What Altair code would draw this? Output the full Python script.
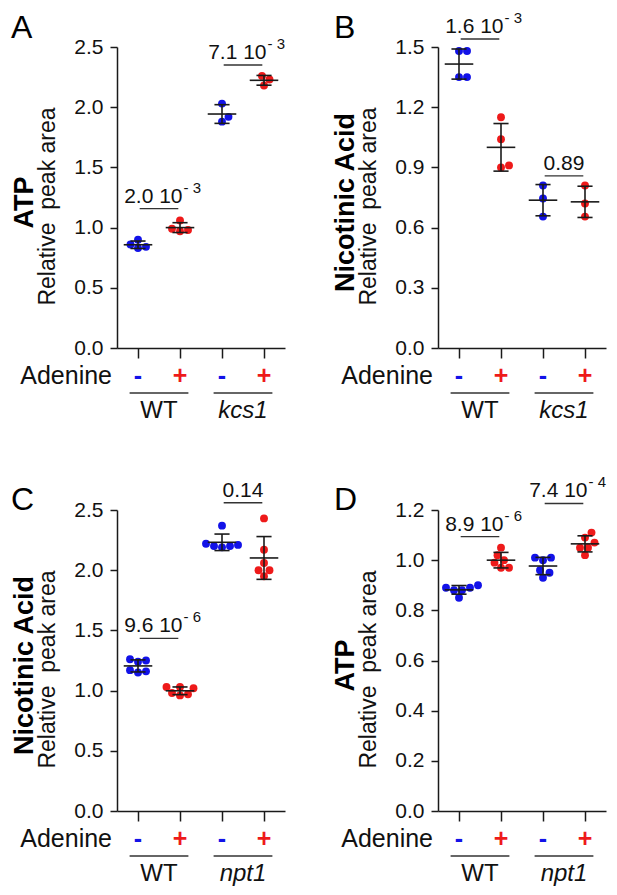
import altair as alt
import numpy as np
import pandas as pd

BLUE = "#1212e8"
RED = "#ee1a1a"
INK = "#1a1a1a"
FONT = "Liberation Sans"

# ---------------- data ----------------
letters = ["A", "B", "C", "D"]
metabolites = ["ATP", "Nicotinic Acid", "Nicotinic Acid", "ATP"]
mutants = ["kcs1", "kcs1", "npt1", "npt1"]
adenine = ["-", "+", "-", "+"]
y_max = [2.5, 1.5, 2.5, 1.2]
y_step = [0.5, 0.3, 0.5, 0.2]

atp_kcs1 = [[0.90, 0.86, 0.84, 0.83], [0.97, 0.98, 0.99, 1.06],
            [2.03, 1.92, 1.88], [2.26, 2.23, 2.18]]
na_kcs1 = [[1.48, 1.48, 1.35, 1.35], [1.15, 1.04, 0.91, 0.90],
           [0.81, 0.745, 0.655], [0.81, 0.72, 0.655]]
na_npt1 = [[1.26, 1.25, 1.24, 1.17, 1.16, 1.15], [1.03, 1.02, 1.03, 0.97, 0.96, 0.98],
           [2.37, 2.22, 2.21, 2.20, 2.19, 2.20], [2.43, 2.17, 2.06, 2.00, 2.00, 1.95]]
atp_npt1 = [[0.89, 0.90, 0.89, 0.88, 0.88, 0.85], [1.05, 1.02, 1.00, 0.99, 0.97, 0.97],
            [1.01, 1.00, 1.01, 0.96, 0.95, 0.93], [1.09, 1.11, 1.05, 1.05, 1.07, 1.02]]
panel_data = [atp_kcs1, na_kcs1, na_npt1, atp_npt1]

p_mantissa = [["2.0", "7.1"], ["1.6", "0.89"], ["9.6", "0.14"], ["8.9", "7.4"]]
p_exponent = [["3", "3"], ["3", ""], ["6", ""], ["6", "4"]]
p_level = [[1.158, 2.35], [1.54, 0.858], [1.434, 2.56], [1.094, 1.226]]

# ---------------- layout ----------------
W, H = 168, 301
UNIT = W / 4.0
DIAM = 8.0
letter_x = [-106, -104, -106, -104]
letter_y = [-34, -34, -25, -25]


def swarm(vals, px_per_val):
    placed = []
    offs = [0.0] * len(vals)
    cands = sorted([k * 0.5 for k in range(-60, 61)], key=lambda c: (abs(c), -c))
    for i in sorted(range(len(vals)), key=lambda i: vals[i]):
        ypx = vals[i] * px_per_val
        c = 0.0
        for c in cands:
            if all((c - px) ** 2 + (ypx - py) ** 2 >= DIAM ** 2 for px, py in placed):
                break
        placed.append((c, ypx))
        offs[i] = c / UNIT
    return offs


def panel(k):
    groups = panel_data[k]
    ymax = y_max[k]
    xs = alt.Scale(domain=[-0.5, 3.5], nice=False, zero=False)
    ys = alt.Scale(domain=[0, ymax], nice=False, zero=True)
    cs = alt.Scale(domain=["-", "+"], range=[BLUE, RED])

    rows, stats = [], []
    for g, vals in enumerate(groups):
        offs = swarm(vals, H / ymax)
        for v, o in zip(vals, offs):
            rows.append({"x": g + o, "v": v, "ad": adenine[g]})
        m = float(np.mean(vals))
        s = float(np.std(vals, ddof=1))
        stats.append({"g": g, "m": m, "lo": m - s, "hi": m + s,
                      "ml": g - 0.34, "mr": g + 0.34, "cl": g - 0.18, "cr": g + 0.18})
    pts = pd.DataFrame(rows)
    st = pd.DataFrame(stats)

    nt = int(round(ymax / y_step[k]))
    yvals = [round(i * y_step[k], 2) for i in range(nt + 1)]
    xaxis = alt.Axis(values=[0, 1, 2, 3], labels=False, ticks=True, tickSize=10,
                     title=None, grid=False)
    yaxis = alt.Axis(values=yvals, format=".1f", title=None, grid=False,
                     tickSize=7, labelPadding=7)

    dots = alt.Chart(pts).mark_circle(size=62, opacity=1).encode(
        x=alt.X("x:Q", scale=xs, axis=xaxis),
        y=alt.Y("v:Q", scale=ys, axis=yaxis),
        color=alt.Color("ad:N", scale=cs, legend=None),
    )
    rule_kw = dict(color=INK, strokeWidth=1.6)
    mean_rule = alt.Chart(st).mark_rule(**rule_kw).encode(
        x=alt.X("ml:Q", scale=xs), x2="mr:Q", y=alt.Y("m:Q", scale=ys))
    sd_rule = alt.Chart(st).mark_rule(**rule_kw).encode(
        x=alt.X("g:Q", scale=xs), y=alt.Y("lo:Q", scale=ys), y2="hi:Q")
    cap_hi = alt.Chart(st).mark_rule(**rule_kw).encode(
        x=alt.X("cl:Q", scale=xs), x2="cr:Q", y=alt.Y("hi:Q", scale=ys))
    cap_lo = alt.Chart(st).mark_rule(**rule_kw).encode(
        x=alt.X("cl:Q", scale=xs), x2="cr:Q", y=alt.Y("lo:Q", scale=ys))

    # p-value brackets
    br_rows = []
    for j, (i0, i1) in enumerate([(0, 1), (2, 3)]):
        exp = p_exponent[k][j]
        br_rows.append({
            "x1": i0 + 0.04, "x2": i1 - 0.04, "y": p_level[k][j],
            "main": (p_mantissa[k][j] + " 10") if exp else p_mantissa[k][j],
            "sup": ("-\u00a0" + exp) if exp else "",
            "xr": i1 + 0.06, "xc": (i0 + i1) / 2.0, "has": bool(exp),
        })
    br = pd.DataFrame(br_rows)
    br_rule = alt.Chart(br).mark_rule(color="#333333", strokeWidth=1.4).encode(
        x=alt.X("x1:Q", scale=xs), x2="x2:Q", y=alt.Y("y:Q", scale=ys))
    br_exp = br[br["has"]]
    br_plain = br[~br["has"]]
    main_r = alt.Chart(br_exp).mark_text(font=FONT, fontSize=21, align="right",
                                         baseline="alphabetic", dy=-6, color="#111111").encode(
        x=alt.X("xr:Q", scale=xs), y=alt.Y("y:Q", scale=ys), text="main:N")
    sup = alt.Chart(br_exp).mark_text(font=FONT, fontSize=15, align="left",
                                      baseline="alphabetic", dx=1, dy=-16, color="#111111").encode(
        x=alt.X("xr:Q", scale=xs), y=alt.Y("y:Q", scale=ys), text="sup:N")
    main_c = alt.Chart(br_plain).mark_text(font=FONT, fontSize=21, align="center",
                                           baseline="alphabetic", dy=-6, color="#111111").encode(
        x=alt.X("xc:Q", scale=xs), y=alt.Y("y:Q", scale=ys), text="main:N")

    # x-axis annotations
    signs = pd.DataFrame({"g": [0, 1, 2, 3], "ad": adenine})
    sign_text = alt.Chart(signs).mark_text(font=FONT, fontSize=25, fontWeight="bold",
                                           baseline="middle").encode(
        x=alt.X("g:Q", scale=xs), y=alt.value(H + 28), text="ad:N",
        color=alt.Color("ad:N", scale=cs, legend=None))
    aden = alt.Chart(pd.DataFrame({"t": ["Adenine"]})).mark_text(
        font=FONT, fontSize=25, align="right", baseline="alphabetic", color="#111111").encode(
        x=alt.value(-5), y=alt.value(H + 36), text="t:N")
    und = alt.Chart(pd.DataFrame({"x1": [-0.2, 1.8], "x2": [1.2, 3.2]})).mark_rule(
        color="#333333", strokeWidth=1.5).encode(
        x=alt.X("x1:Q", scale=xs), x2="x2:Q", y=alt.value(H + 45))
    wt = alt.Chart(pd.DataFrame({"x": [0.5], "t": ["WT"]})).mark_text(
        font=FONT, fontSize=24, align="center", baseline="alphabetic", color="#111111").encode(
        x=alt.X("x:Q", scale=xs), y=alt.value(H + 70), text="t:N")
    mut = alt.Chart(pd.DataFrame({"x": [2.5], "t": [mutants[k]]})).mark_text(
        font=FONT, fontSize=24, fontStyle="italic", align="center", baseline="alphabetic",
        color="#111111").encode(
        x=alt.X("x:Q", scale=xs), y=alt.value(H + 70), text="t:N")

    # panel letter and y titles
    letter = alt.Chart(pd.DataFrame({"t": [letters[k]]})).mark_text(
        font=FONT, fontSize=32, align="left", baseline="top", color="#000000").encode(
        x=alt.value(letter_x[k]), y=alt.value(letter_y[k]), text="t:N")
    ttl1 = alt.Chart(pd.DataFrame({"t": [metabolites[k]]})).mark_text(
        font=FONT, fontSize=27, fontWeight="bold", angle=270, align="center",
        baseline="alphabetic", color="#000000").encode(
        x=alt.value(-84), y=alt.value(H / 2 + 5), text="t:N")
    ttl2 = alt.Chart(pd.DataFrame({"t": ["Relative\u00a0 peak area"]})).mark_text(
        font=FONT, fontSize=23, angle=270, align="center",
        baseline="alphabetic", color="#111111").encode(
        x=alt.value(-62), y=alt.value(H / 2 + 9), text="t:N")

    return alt.layer(dots, mean_rule, sd_rule, cap_hi, cap_lo, br_rule, main_r, sup, main_c,
                     sign_text, aden, und, wt, mut, letter, ttl1, ttl2).properties(
        width=W, height=H)


panels = [panel(k) for k in range(4)]
chart = alt.concat(*panels, columns=2, spacing={"row": 162, "column": 153},
                   bounds="flush").properties(
    padding={"left": 3, "top": 2, "right": 0, "bottom": 0}).configure_view(
    stroke=None).configure_axis(
    domainColor=INK, domainWidth=1.5, tickColor=INK, tickWidth=1.5,
    labelFont=FONT, labelFontSize=21, labelColor="#111111")

chart.save("out.html", embed_options={"renderer": "svg", "actions": False})
